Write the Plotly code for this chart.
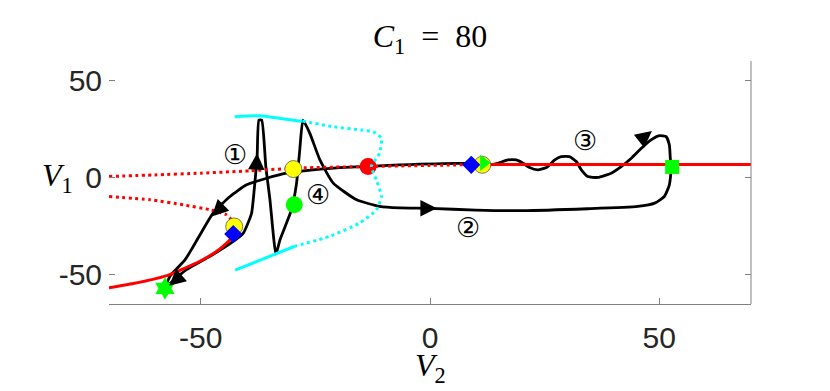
import plotly.graph_objects as go

# ---------------- data ----------------
red_up_dot_x = [-70, -60, -50, -39.3, -28.4, -13.5, 0, 11]
red_up_dot_y = [0.6, 1.4, 2.3, 3.5, 5.0, 5.7, 6.3, 6.8]
red_up_sol_x = [11, 70]
red_up_sol_y = [6.8, 6.8]
red_lo_dot_x = [-70, -61, -53.8, -48, -44.4, -42.8]
red_lo_dot_y = [-9.7, -11.4, -14, -16.5, -19.1, -23]
red_lo_sol_x = [-42.8, -43.6, -46.5, -50.2, -53.8, -57.4, -64.7, -70]
red_lo_sol_y = [-27, -31.9, -37.9, -43, -46.9, -50.4, -54.5, -56.7]

cyan_top_x = [-42.6, -37.1, -29.1, -27.8]
cyan_top_y = [31.3, 31.8, 29.3, 29.1]
cyan_dot_x = [-27.8, -21.1, -15.0, -12.4, -10.6, -11.0, -12.8, -11.7, -10.6, -11.7, -15.3, -21.9, -29.5]
cyan_dot_y = [29.1, 26.2, 24.5, 23.6, 20.3, 12.6, 5.7, -1.1, -9.7, -16.5, -23.3, -30.2, -35.3]
cyan_bot_x = [-29.5, -33.5, -42.5]
cyan_bot_y = [-35.3, -39.1, -47.6]

traj1_x = [-57.8, -53.1, -48.0, -42.9, -40.7, -40.0, -38.9, -38.2, -37.7, -37.3,
           -36.7, -35.8, -34.9, -33.6, -32.7, -30.2, -29.1, -28.4, -27.7,
           -26.2, -24.0, -21.1, -16.0, -11.0, -6.6, 0, 10, 20, 34.4, 45.3,
           49.0, 51.1, 52.2, 52.6, 52.4, 52.2, 51.5, 50.0, 48.2, 46.1, 43.9,
           41.7, 39.5, 36.6, 34.4, 33.0, 31.9, 30.4, 28.6, 27.2, 25.4, 23.5,
           21.7, 20.3, 18.8, 17.0, 14.8, 12.6]
traj1_y = [-56.7, -47.3, -40.5, -32.8, -28.5, -25.1, -18.2, -2.8, 10.8, 29.6,
           29.6, 5.7, -11.4, -39.3, -31.9, -16.5, -2.8, 14.3, 29.6,
           22.8, 9.1, -2.8, -11.4, -14.8, -15.6, -15.8, -16.7, -17.0, -16.0, -14.8,
           -13.1, -9.7, -3.7, 4.9, 10.0, 16.8, 21.1, 21.6, 19.4, 15.1, 10.0,
           5.7, 2.3, 0.1, 0.6, 4.0, 8.3, 10.8, 10.8, 9.1, 5.2, 4.0,
           5.2, 7.4, 9.1, 9.1, 7.4, 6.2]

traj2_x = [9.0, 7.8, -6.6, -13.9, -19.7, -25.5, -31.3, -35.6, -40.0, -43.6,
           -47.3, -51.6, -53.4, -56.7, -57.8]
traj2_y = [6.8, 7.3, 6.6, 5.7, 5.2, 4.0, 2.3, -0.3, -3.7, -9.7,
           -18.2, -35.3, -42.2, -50.7, -56.5]

arrow_from_x = [-37.8, -45.4, -54.6, 0.0, 46.0]
arrow_from_y = [8.0, -14.9, -50.9, -15.8, 19.5]
arrow_tip_x = [-37.7, -47.6, -56.9, 1.5, 48.4]
arrow_tip_y = [12.6, -20.0, -55.6, -15.8, 24.0]

yellow_x = [-42.7, -29.8, 11.4]
yellow_y = [-25.1, 4.4, 6.6]
green_circle_x = [-29.6]
green_circle_y = [-14.0]
red_circle_x = [-13.5]
red_circle_y = [5.7]
blue_diamond_x = [-42.9, 9.0]
blue_diamond_y = [-29.0, 6.6]
green_tri_x = [11.7]
green_tri_y = [7.6]
green_square_x = [52.8]
green_square_y = [5.5]
green_star_x = [-57.8]
green_star_y = [-57.0]

label_text = ["①", "②", "③", "④"]
label_x = [-42.5, 8.2, 33.9, -24.4]
label_y = [11.7, -25.7, 18.9, -8.8]

tick_vals = [-50, 0, 50]
tick_text = ["-50", "0", "50"]

# ---------------- figure ----------------
fig = go.Figure()

def line(x, y, color, width=3, dash=None, shape="linear"):
    fig.add_trace(go.Scatter(x=x, y=y, mode="lines", hoverinfo="skip",
                             line=dict(color=color, width=width, dash=dash,
                                       shape=shape, smoothing=0.5)))

def mark(x, y, symbol, color, size, lw=0.8, lc="#444444"):
    fig.add_trace(go.Scatter(x=x, y=y, mode="markers", hoverinfo="skip",
                             marker=dict(symbol=symbol, color=color, size=size,
                                         line=dict(width=lw, color=lc))))

BLACK = "#000000"
RED = "#ff0000"
CYAN = "#00ffff"
GREEN = "#00ff00"
DOT = "3px,3.5px"

line(traj1_x, traj1_y, BLACK, 2.8, shape="spline")
line(traj2_x, traj2_y, BLACK, 2.8, shape="spline")

# arrowheads on the trajectories
for fx, fy, tx, ty in zip(arrow_from_x, arrow_from_y, arrow_tip_x, arrow_tip_y):
    fig.add_annotation(x=tx, y=ty, ax=fx, ay=fy, xref="x", yref="y",
                       axref="x", ayref="y", text="", showarrow=True,
                       arrowhead=2, arrowsize=1.5, arrowwidth=2.2, arrowcolor=BLACK)

line(red_up_dot_x, red_up_dot_y, RED, 3, DOT, "spline")
line(red_up_sol_x, red_up_sol_y, RED, 3)
line(red_lo_dot_x, red_lo_dot_y, RED, 3, DOT, "spline")
line(red_lo_sol_x, red_lo_sol_y, RED, 3, shape="spline")

mark(red_circle_x, red_circle_y, "circle", RED, 17, 0)

line(cyan_top_x, cyan_top_y, CYAN, 3, shape="spline")
line(cyan_dot_x, cyan_dot_y, CYAN, 3, DOT, "spline")
line(cyan_bot_x, cyan_bot_y, CYAN, 3, shape="spline")

mark(yellow_x, yellow_y, "circle", "#ffff00", 17, 0.8, "#555555")
mark(green_circle_x, green_circle_y, "circle", GREEN, 17, 0)
mark(blue_diamond_x, blue_diamond_y, "diamond", "#0000ff", 14, 0)
mark(green_tri_x, green_tri_y, "triangle-right", GREEN, 14, 0)
mark(green_square_x, green_square_y, "square", GREEN, 14, 0)
mark(green_star_x, green_star_y, "hexagram", GREEN, 17, 0)

for t, x, y in zip(label_text, label_x, label_y):
    fig.add_annotation(x=x, y=y, text=t, showarrow=False,
                       font=dict(family="DejaVu Serif, DejaVu Sans", size=27, color="#000000"))

SERIF = "Liberation Serif, Times New Roman, serif"
fig.add_annotation(xref="paper", yref="y", x=-0.107, y=0, text="<i>V</i><sub>1</sub>",
                   showarrow=False, font=dict(family=SERIF, size=32, color="#000000"))
fig.add_annotation(xref="paper", yref="paper", x=0.5, y=-0.262, yanchor="middle",
                   text="<i>V</i><sub>2</sub>",
                   showarrow=False, font=dict(family=SERIF, size=32, color="#000000"))

# right-hand axis line
fig.add_shape(type="line", xref="paper", yref="paper", x0=1, x1=1, y0=0, y1=1,
              line=dict(color="#808080", width=1))

axis_font = dict(family="Liberation Sans, Arial, sans-serif", size=30, color="#262626")
fig.update_layout(
    width=830, height=391,
    margin=dict(l=101, r=87, t=53, b=95),
    paper_bgcolor="white", plot_bgcolor="white",
    showlegend=False,
    title=dict(text="<i>C</i><sub>1</sub>&nbsp;&nbsp;=&nbsp;&nbsp;80", x=0.5, xref="paper",
               y=1 - 28 / 391, yref="container", yanchor="middle", xanchor="center",
               font=dict(family=SERIF, size=32, color="#000000")),
    xaxis=dict(range=[-70, 70], tickvals=tick_vals, ticktext=tick_text,
               ticks="inside", ticklen=6, tickcolor="#808080", tickwidth=1,
               showline=True, linecolor="#808080", linewidth=1, mirror=False,
               showgrid=False, zeroline=False, tickfont=axis_font,
               ticklabelstandoff=7),
    yaxis=dict(range=[-65, 60], tickvals=tick_vals, ticktext=tick_text,
               ticks="inside", ticklen=6, tickcolor="#808080", tickwidth=1,
               showline=False, mirror="ticks",
               showgrid=False, zeroline=False, tickfont=axis_font,
               ticklabelstandoff=6),
)

fig.write_html("out.html")
